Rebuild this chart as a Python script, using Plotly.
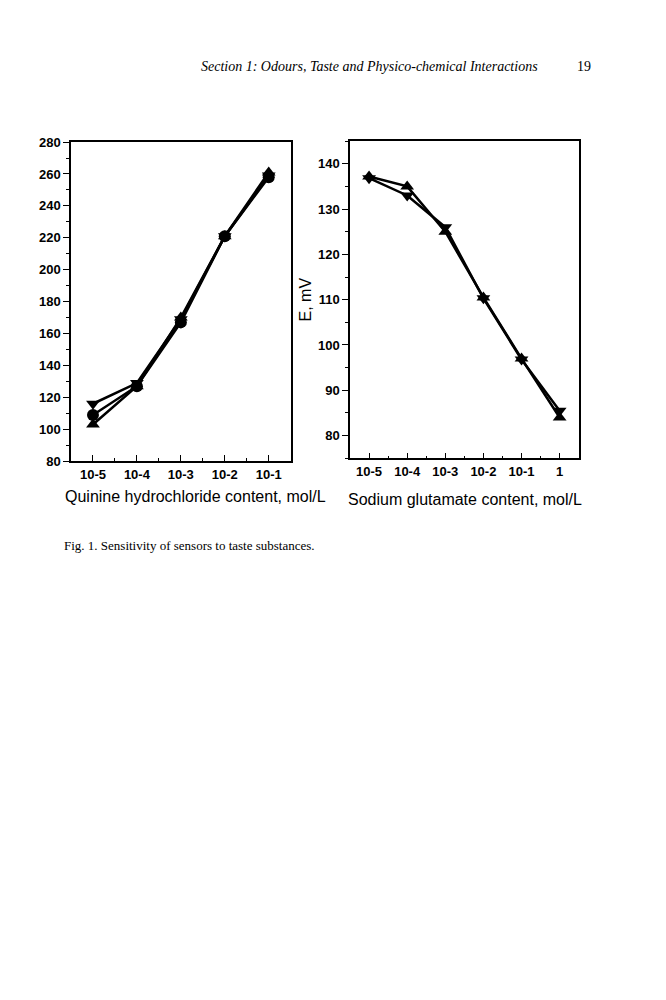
import plotly.graph_objects as go

# concentrations (category labels)
quinine_conc = ["10-5", "10-4", "10-3", "10-2", "10-1"]
glutamate_conc = ["10-5", "10-4", "10-3", "10-2", "10-1", "1"]

# left panel: quinine hydrochloride, E (mV)
quinine_down = [116, 129, 169, 221, 259]
quinine_circle = [109, 127, 167, 221, 258]
quinine_up = [103, 127, 170, 221, 261]

# right panel: sodium glutamate, E (mV)
glutamate_up = [137.2, 135, 125, 110.5, 97, 84]
glutamate_down = [136.8, 133, 126, 110.3, 96.8, 85.5]

quinine_x = list(range(len(quinine_conc)))
glutamate_x = list(range(len(glutamate_conc)))

# page offset of the plotly div (body margin), in px
OFF = 8
W, H = 666, 1000


def px(x):
    return (x - OFF) / W


def py(y):
    return 1 - (y - OFF) / H


fig = go.Figure()

line = dict(color="black", width=2.5)


def add(x, y, symbol, xa, ya):
    fig.add_trace(go.Scatter(
        x=x, y=y, mode="lines+markers", line=line,
        marker=dict(symbol=symbol, size=12, color="black"),
        xaxis=xa, yaxis=ya, showlegend=False))


add(quinine_x, quinine_down, "triangle-down", "x", "y")
add(quinine_x, quinine_circle, "circle", "x", "y")
add(quinine_x, quinine_up, "triangle-up", "x", "y")
add(glutamate_x, glutamate_up, "triangle-up", "x2", "y2")
add(glutamate_x, glutamate_down, "triangle-down", "x2", "y2")

tickfont = dict(family="Liberation Sans", size=13, color="black", weight="bold")
titlefont = dict(family="Liberation Sans", size=16, color="black")

common_x = dict(showline=True, linecolor="black", linewidth=1.5, mirror=True,
                showgrid=False, zeroline=False, ticks="inside", ticklen=6,
                tickcolor="black", tickfont=tickfont)
common_y = dict(showline=True, linecolor="black", linewidth=1.5, mirror=True,
                showgrid=False, zeroline=False, ticks="outside", ticklen=6,
                tickcolor="black", tickfont=tickfont)

fig.update_layout(
    width=W, height=H,
    margin=dict(l=0, r=0, t=0, b=0),
    paper_bgcolor="white", plot_bgcolor="white",
    xaxis=dict(common_x, domain=[px(71), px(290.7)], range=[-0.5, 4.5],
               tickvals=quinine_x, ticktext=quinine_conc,
               minor=dict(tickvals=[v + 0.5 for v in quinine_x[:-1]],
                          ticks="inside", ticklen=3, tickcolor="black")),
    yaxis=dict(common_y, domain=[py(461), py(137)], range=[80, 280], dtick=20,
               minor=dict(dtick=10, ticks="outside", ticklen=3, tickcolor="black")),
    xaxis2=dict(common_x, domain=[px(350), px(578.7)], range=[-0.5, 5.5],
                anchor="y2",
                tickvals=glutamate_x, ticktext=glutamate_conc,
                minor=dict(tickvals=[v + 0.5 for v in glutamate_x[:-1]],
                           ticks="inside", ticklen=3, tickcolor="black")),
    yaxis2=dict(common_y, domain=[py(458), py(136)], range=[75, 145], dtick=10,
                anchor="x2",
                minor=dict(dtick=5, ticks="outside", ticklen=3, tickcolor="black"),
                title_text="E, mV",
                title_font=dict(family="Liberation Sans", size=16, color="black"),
                title_standoff=2),
)

# axis titles placed as annotations (left one is off-centre in the original)
fig.add_annotation(
    x=px(195), y=py(497), xref="paper", yref="paper",
    xanchor="center", yanchor="middle", showarrow=False,
    text="Quinine hydrochloride content, mol/L", font=titlefont)
fig.add_annotation(
    x=px(465), y=py(500), xref="paper", yref="paper",
    xanchor="center", yanchor="middle", showarrow=False,
    text="Sodium glutamate content, mol/L", font=titlefont)

fig.add_annotation(
    x=px(540), y=py(60), xref="paper", yref="paper",
    xanchor="right", yanchor="middle", showarrow=False,
    text="<i>Section 1: Odours, Taste and Physico-chemical Interactions</i>",
    font=dict(family="Liberation Serif", size=14, color="black"))
fig.add_annotation(
    x=px(593), y=py(60), xref="paper", yref="paper",
    xanchor="right", yanchor="middle", showarrow=False, text="19",
    font=dict(family="Liberation Serif", size=14, color="black"))
fig.add_annotation(
    x=px(62), y=py(547), xref="paper", yref="paper",
    xanchor="left", yanchor="middle", showarrow=False,
    text="Fig. 1. Sensitivity of sensors to taste substances.",
    font=dict(family="Liberation Serif", size=13, color="black"))

fig.write_html("out.html")
